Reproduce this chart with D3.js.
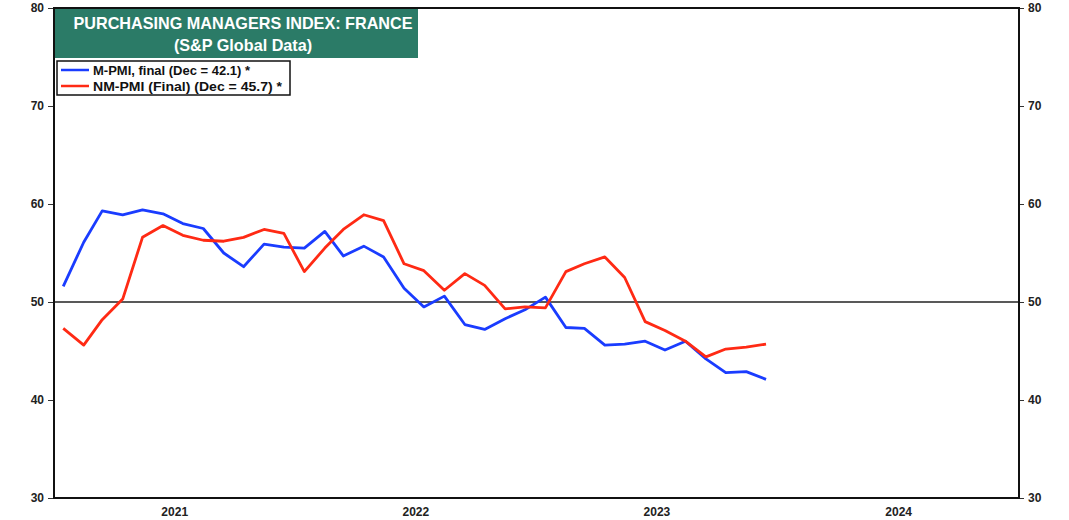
<!DOCTYPE html>
<html><head><meta charset="utf-8">
<script src="https://cdn.jsdelivr.net/npm/d3@7"></script>
<style>body{margin:0;background:#fff}svg{display:block;font-family:"Liberation Sans",Arial,sans-serif}</style>
</head><body>
<svg id="c" width="1069" height="520"></svg>
<script>
const months = d3.range(36).map(i => new Date(2021, i, 15));
const mPmi = [51.6,56.1,59.3,58.9,59.4,59.0,58.0,57.5,55.0,53.6,55.9,55.6,
              55.5,57.2,54.7,55.7,54.6,51.4,49.5,50.6,47.7,47.2,48.3,49.2,
              50.5,47.4,47.3,45.6,45.7,46.0,45.1,46.0,44.2,42.8,42.9,42.1];
const nmPmi = [47.3,45.6,48.2,50.3,56.6,57.8,56.8,56.3,56.2,56.6,57.4,57.0,
               53.1,55.5,57.4,58.9,58.3,53.9,53.2,51.2,52.9,51.7,49.3,49.5,
               49.4,53.1,53.9,54.6,52.5,48.0,47.1,46.0,44.4,45.2,45.4,45.7];
const yTicks = [30,40,50,60,70,80];
const yearLabels = ["2021","2022","2023","2024"];
const titleLines = ["PURCHASING MANAGERS INDEX: FRANCE","(S&P Global Data)"];
const legendLabels = ["M-PMI, final (Dec = 42.1) *","NM-PMI (Final) (Dec = 45.7) *"];
const colors = ["#1a3cff","#ff2a14"];

const L=54, R=1019, T=8, B=498;
const svg = d3.select("#c");
const x = d3.scaleTime().domain([new Date(2021,0,1), new Date(2025,0,1)]).range([L,R]);
const y = d3.scaleLinear().domain([30,80]).range([B,T]);

// axes
const yl = svg.append("g").attr("transform",`translate(${L},0)`)
  .call(d3.axisLeft(y).tickValues(yTicks).tickSize(6).tickPadding(4));
const yr = svg.append("g").attr("transform",`translate(${R},0)`)
  .call(d3.axisRight(y).tickValues(yTicks).tickSize(5).tickPadding(4));
[yl,yr].forEach(g=>{
  g.select(".domain").remove();
  g.selectAll("text").attr("font-size",12).attr("font-weight","bold").attr("fill","#222");
  g.selectAll("line").attr("stroke","#333");
});
const xa = svg.append("g").attr("transform",`translate(0,${B})`)
  .call(d3.axisBottom(x).tickValues(yearLabels.map(s=>new Date(+s,6,2))).tickFormat(d=>String(d.getFullYear())).tickSize(0).tickPadding(9));
xa.select(".domain").remove();
xa.selectAll("text").attr("font-size",12).attr("font-weight","bold").attr("fill","#222");

// 50 line
svg.append("line").attr("x1",L).attr("x2",R).attr("y1",y(50)).attr("y2",y(50))
  .attr("stroke","#222").attr("stroke-width",1.5);

// lines
const line = d3.line().x((d,i)=>x(months[i])).y(d=>y(d));
[mPmi,nmPmi].forEach((s,k)=>{
  svg.append("path").datum(s).attr("d",line).attr("fill","none")
    .attr("stroke",colors[k]).attr("stroke-width",2.8).attr("stroke-linejoin","round");
});

// frame
svg.append("rect").attr("x",L).attr("y",T).attr("width",R-L).attr("height",B-T)
  .attr("fill","none").attr("stroke","#111").attr("stroke-width",2);

// title box
svg.append("rect").attr("x",L+1).attr("y",T+1).attr("width",363).attr("height",49).attr("fill","#2b7b67");
titleLines.forEach((t,i)=>{
  svg.append("text").attr("x",243).attr("y",29+i*22).attr("text-anchor","middle")
    .attr("font-size",16.2).attr("font-weight","bold").attr("fill","#fff").text(t);
});

// legend
svg.append("rect").attr("x",57).attr("y",61).attr("width",233).attr("height",34)
  .attr("fill","#fff").attr("stroke","#111").attr("stroke-width",1.5);
legendLabels.forEach((t,i)=>{
  const yy = 70+i*16;
  svg.append("line").attr("x1",61).attr("x2",89).attr("y1",yy).attr("y2",yy)
    .attr("stroke",colors[i]).attr("stroke-width",2.5);
  svg.append("text").attr("x",93).attr("y",yy+4.5).attr("font-size",13).attr("font-weight","bold")
    .attr("fill","#111").attr("textLength", i===0?157:189).attr("lengthAdjust","spacingAndGlyphs").text(t);
});
</script>
</body></html>
